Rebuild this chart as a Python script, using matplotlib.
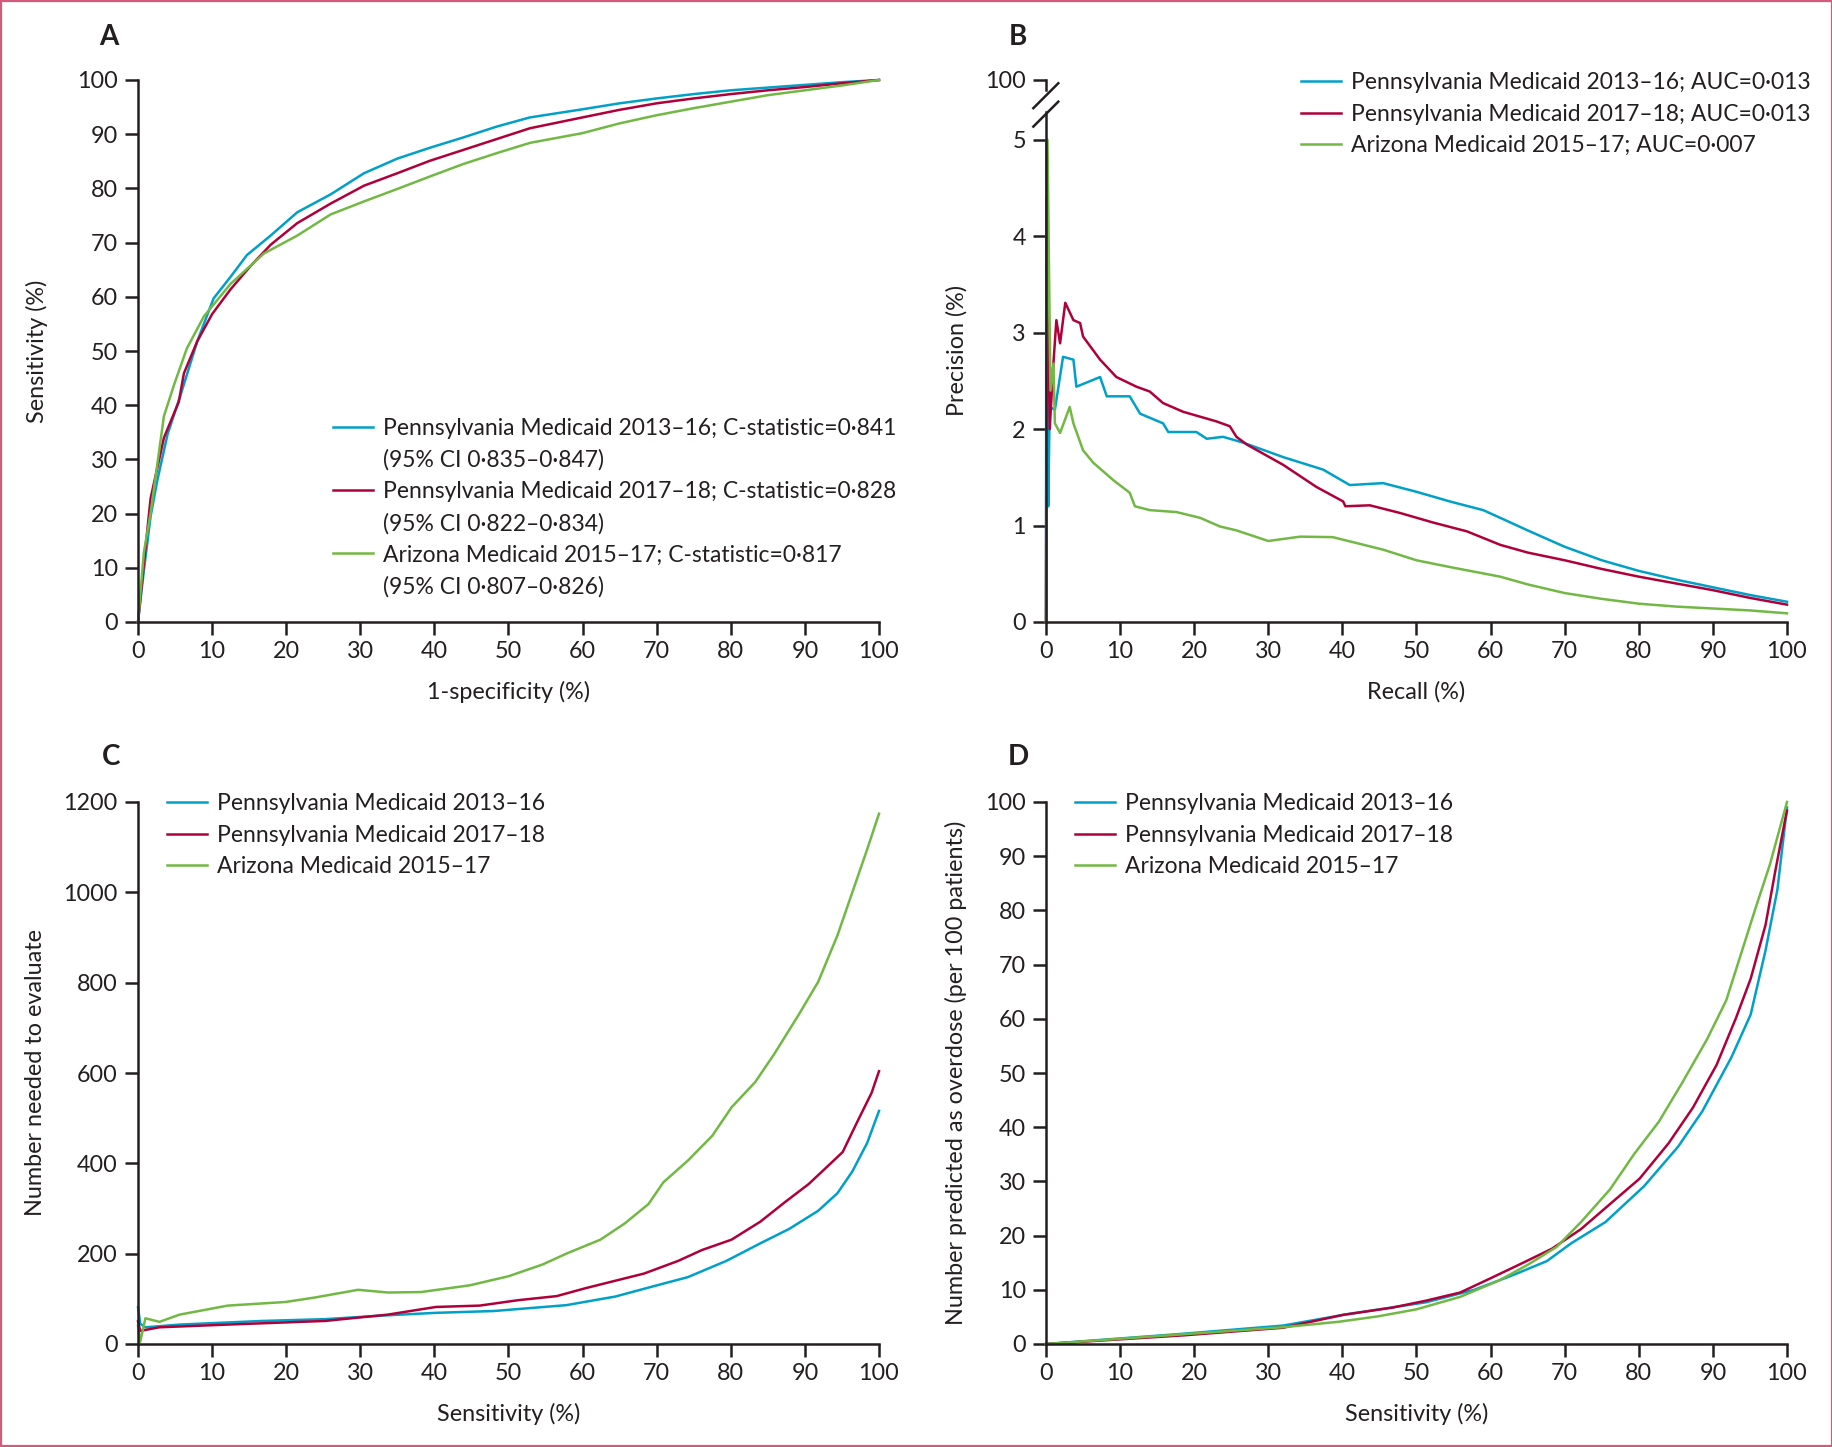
"""Four-panel model performance figure (ROC, precision-recall, NNE, predicted positives)."""

import matplotlib.pyplot as plt
from matplotlib.lines import Line2D
from matplotlib.patches import Rectangle

# --------------------------------------------------------------------------- #
# Data
# --------------------------------------------------------------------------- #
SERIES = ["Pennsylvania Medicaid 2013–16", "Pennsylvania Medicaid 2017–18",
          "Arizona Medicaid 2015–17"]
C_STATS = ["C-statistic=0·841", "C-statistic=0·828", "C-statistic=0·817"]
C_CIS = ["(95% CI 0·835–0·847)", "(95% CI 0·822–0·834)", "(95% CI 0·807–0·826)"]
AUCS = ["AUC=0·013", "AUC=0·013", "AUC=0·007"]

# Panel A: ROC (x = 1-specificity, y = sensitivity)
ROC_X_PA1316 = [0, 0.8, 1.7, 2.6, 4, 5.75, 8, 10.2, 12.5, 14.7, 17.9, 21.5, 26, 30.5, 35,
                39.4, 43.9, 48.4, 52.9, 60, 65, 70, 75, 80, 85, 90, 95, 100]
ROC_Y_PA1316 = [0, 9.6, 19.5, 26.1, 34.7, 41.9, 51.8, 59.7, 63.7, 67.7, 71.3, 75.6, 78.9, 82.8,
                85.5, 87.5, 89.4, 91.4, 93.1, 94.6, 95.7, 96.6, 97.4, 98.1, 98.6, 99.1, 99.6, 100]
ROC_X_PA1718 = [0, 0.8, 1.7, 3.5, 5.5, 6.2, 8, 10, 12.5, 15.2, 17.9, 21.5, 26, 30.5, 35,
                39.4, 43.9, 48.4, 52.9, 60, 65, 70, 75, 80, 85, 90, 95, 100]
ROC_Y_PA1718 = [0, 10.9, 22.8, 34, 40.6, 45.9, 51.8, 56.8, 61.4, 65.7, 69.6, 73.6, 77.2, 80.5,
                82.8, 85.1, 87.1, 89.1, 91.1, 93.1, 94.5, 95.7, 96.6, 97.4, 98.1, 98.7, 99.4, 100]
ROC_X_AZ = [0, 0.8, 1.7, 3.5, 4.9, 6.6, 8.9, 12.5, 17, 21.5, 26, 30.5, 35, 39.4, 43.9,
            48.4, 52.9, 60, 65, 70, 75, 80, 85, 90, 95, 100]
ROC_Y_AZ = [0, 12.9, 20.1, 38, 43.9, 50.5, 56.4, 62.4, 68, 71.3, 75.2, 77.6, 79.9, 82.2, 84.5,
            86.5, 88.4, 90.2, 92, 93.5, 94.8, 96, 97.2, 98.1, 99, 100]

# Panel B: precision-recall
PR_X_PA1316 = [0, 0.05, 0.3, 0.5, 1.2, 2.3, 3.7, 4.1, 7.3, 8.2, 11.3, 12.7, 15.8, 16.5, 20.3,
               21.7, 23.9, 26.6, 32, 37.4, 41, 45.5, 50, 54.5, 59, 61.3, 65, 70, 75, 80, 85,
               90, 95, 100]
PR_Y_PA1316 = [0, 5.0, 1.2, 2.23, 2.2, 2.75, 2.72, 2.44, 2.54, 2.34, 2.34, 2.16, 2.06, 1.97,
               1.97, 1.9, 1.92, 1.86, 1.71, 1.58, 1.42, 1.44, 1.35, 1.25, 1.16, 1.08, 0.95,
               0.78, 0.64, 0.53, 0.44, 0.36, 0.28, 0.21]
PR_X_PA1718 = [0, 0.1, 0.5, 1.0, 1.4, 1.9, 2.6, 3.7, 4.6, 5.0, 7.3, 9.5, 12.2, 14, 15.8, 18.5,
               23, 24.8, 25.7, 27.1, 32, 36.5, 40.1, 40.4, 43.7, 47.8, 52.3, 56.8, 61.3, 65,
               70, 75, 80, 85, 90, 95, 100]
PR_Y_PA1718 = [0, 4.4, 2.0, 2.68, 3.13, 2.89, 3.31, 3.13, 3.1, 2.96, 2.72, 2.54, 2.44, 2.39,
               2.27, 2.18, 2.08, 2.03, 1.92, 1.84, 1.63, 1.40, 1.25, 1.20, 1.21, 1.13, 1.03,
               0.94, 0.80, 0.72, 0.64, 0.55, 0.47, 0.40, 0.33, 0.25, 0.18]
PR_X_AZ = [0, 0.2, 0.6, 1.0, 1.2, 1.9, 3.2, 3.7, 5.0, 6.4, 9.1, 11.3, 12.0, 14, 17.6, 20.8,
           23.5, 25.7, 30, 34.3, 38.7, 45.5, 50, 54.5, 61.3, 65, 70, 75, 80, 85, 90, 95, 100]
PR_Y_AZ = [0, 5.0, 2.4, 2.68, 2.06, 1.96, 2.23, 2.06, 1.78, 1.65, 1.47, 1.34, 1.20, 1.16,
           1.14, 1.08, 0.99, 0.95, 0.84, 0.885, 0.88, 0.75, 0.64, 0.57, 0.47, 0.39, 0.30,
           0.24, 0.19, 0.16, 0.14, 0.12, 0.09]

# Panel C: number needed to evaluate vs sensitivity
NNE_X_PA1316 = [0, 0.3, 1, 5.6, 16.7, 25.2, 33, 40.2, 48, 57.8, 64.4, 69.6, 74.2, 79.4, 84,
                87.9, 91.8, 94.4, 96.4, 98.4, 100]
NNE_Y_PA1316 = [81, 45, 37, 43, 51, 55, 63, 69, 73, 86, 105, 128, 148, 184, 223, 255, 295,
                334, 382, 445, 516]
NNE_X_PA1718 = [0, 0.3, 2.9, 12.1, 25.2, 33.7, 40.2, 46.1, 51.3, 56.5, 60.5, 64.4, 68.3,
                72.9, 76.1, 80.1, 84, 87.3, 90.5, 93.1, 95.1, 97.1, 99, 100]
NNE_Y_PA1718 = [50, 29, 37, 43, 51, 65, 82, 85, 97, 106, 124, 140, 156, 184, 208, 231, 271,
                314, 354, 394, 425, 493, 556, 604]
NNE_X_AZ = [0, 0.3, 1, 2.9, 5.6, 12.1, 19.9, 23.9, 29.7, 33.7, 38.2, 44.8, 50, 54.6, 57.8,
            62.4, 65.7, 68.9, 70.9, 74.2, 77.5, 80.1, 83.3, 85.9, 89.2, 91.8, 94.4, 96.4,
            98.4, 100]
NNE_Y_AZ = [40, 5, 57, 49, 65, 85, 93, 103, 120, 114, 115, 130, 150, 176, 200, 231, 267, 310,
            358, 406, 461, 524, 580, 643, 730, 802, 905, 1000, 1095, 1174]

# Panel D: number predicted as overdose (per 100 patients) vs sensitivity
POS_X_PA1316 = [0, 18.6, 32, 40.2, 51.3, 57.8, 63, 67.6, 70.9, 75.5, 80.7, 85.3, 88.6, 92.5,
                95.1, 97.1, 98.7, 100]
POS_Y_PA1316 = [0, 1.9, 3.4, 5.4, 7.7, 10, 12.7, 15.3, 18.6, 22.5, 29.1, 36.4, 43, 52.9,
                60.8, 72.6, 83.8, 99]
POS_X_PA1718 = [0, 18.6, 32, 40.2, 46.7, 51.3, 55.9, 59.8, 64.4, 68.3, 72.2, 76.1, 80.1, 84,
                87.3, 90.5, 93.1, 95.1, 97.1, 98.4, 99.7, 100]
POS_Y_PA1718 = [0, 1.6, 3.0, 5.4, 6.7, 8.0, 9.5, 12, 15, 17.6, 21.2, 25.8, 30.5, 37, 43.6,
                51.5, 60.1, 67.4, 77.3, 87.1, 96.4, 98.4]
POS_X_AZ = [0, 18.6, 32, 39.5, 44.8, 50, 55.9, 61.1, 65, 68.9, 72.2, 76.1, 79.4, 82.7, 85.9,
            89.2, 91.8, 93.8, 95.8, 97.7, 100]
POS_Y_AZ = [0, 1.8, 3.1, 4.1, 5.1, 6.4, 8.7, 11.7, 14.6, 17.9, 22.5, 28.5, 35.1, 41, 48.3,
            56.2, 63.4, 72, 80.6, 88.5, 100]

# --------------------------------------------------------------------------- #
# Style
# --------------------------------------------------------------------------- #
COLORS = ["#00a0c8", "#b0003a", "#72b844"]
INK = "#231f20"
LW = 1.8
FS_TICK = 16.8
FS_LEG = 16.5

plt.rcParams.update({
  "font.family": ["Lato", "DejaVu Sans"],
  "font.size": FS_TICK,
  "text.color": INK,
  "axes.edgecolor": INK,
  "axes.labelcolor": INK,
  "axes.labelsize": FS_TICK,
  "axes.linewidth": 1.8,
  "xtick.color": INK,
  "ytick.color": INK,
  "xtick.major.size": 9.5,
  "ytick.major.size": 9.5,
  "xtick.major.width": 1.8,
  "ytick.major.width": 1.8,
  "xtick.major.pad": 4,
  "ytick.major.pad": 5,
  "xtick.labelsize": FS_TICK,
  "ytick.labelsize": FS_TICK,
})

W, H = 1833, 1447
LEFT_A, LEFT_B, AX_W = 138, 1046, 741
TOP_ROW, BOT_ROW, AX_H = 80, 802, 542


def _axes(fig, left_px, top_px):
  return fig.add_axes([left_px / W, 1 - (top_px + AX_H) / H, AX_W / W, AX_H / H])


def _style(ax, xlabel, ylabel, ylab_x):
  ax.spines[["top", "right"]].set_visible(False)
  ax.set_xlim(0, 100)
  ax.set_xticks(range(0, 101, 10))
  ax.set_xlabel(xlabel, va="center")
  ax.xaxis.set_label_coords(0.5, -0.129)
  ax.set_ylabel(ylabel, va="center")
  ax.yaxis.set_label_coords(ylab_x, 0.5)


def _legend(ax, handles, labels, x, y):
  ax.legend(handles, labels, loc="upper left", bbox_to_anchor=(x, y), frameon=False,
            fontsize=FS_LEG, handlelength=1.75, handletextpad=0.45, labelspacing=0.45,
            borderpad=0, borderaxespad=0)


def _lines(ax, xs, ys):
  out = []
  for x, y, c in zip(xs, ys, COLORS):
    out.append(ax.plot(x, y, color=c, lw=LW, clip_on=False, solid_joinstyle="round")[0])
  return out


def main():
  fig = plt.figure(figsize=(W / 100, H / 100), dpi=100)

  # A -- ROC
  ax = _axes(fig, LEFT_A, TOP_ROW)
  hs = _lines(ax, [ROC_X_PA1316, ROC_X_PA1718, ROC_X_AZ], [ROC_Y_PA1316, ROC_Y_PA1718, ROC_Y_AZ])
  ax.set_ylim(0, 100)
  ax.set_yticks(range(0, 101, 10))
  _style(ax, "1-specificity (%)", "Sensitivity (%)", -0.136)
  blank = Line2D([], [], color="none")
  handles, labels = [], []
  for h, s, c, ci in zip(hs, SERIES, C_STATS, C_CIS):
    handles += [h, blank]
    labels += [f"{s}; {c}", ci]
  _legend(ax, handles, labels, 0.263, 0.376)

  # B -- precision-recall with broken y axis
  ax = _axes(fig, LEFT_B, TOP_ROW)
  hs = _lines(ax, [PR_X_PA1316, PR_X_PA1718, PR_X_AZ], [PR_Y_PA1316, PR_Y_PA1718, PR_Y_AZ])
  top = 5.62
  ax.set_ylim(0, top)
  ax.set_yticks([0, 1, 2, 3, 4, 5, top], ["0", "1", "2", "3", "4", "5", "100"])
  _style(ax, "Recall (%)", "Precision (%)", -0.121)
  ax.spines["left"].set_bounds(0, 0.9415 * top)
  kw = dict(transform=ax.transAxes, clip_on=False, color=INK, lw=1.8)
  ax.plot([0, 0], [0.982, 1.0], **kw)
  ax.plot([-0.0171, 0.0166], [0.948, 0.994], **kw)
  ax.plot([-0.0171, 0.0166], [0.914, 0.960], **kw)
  _legend(ax, hs, [f"{s}; {a}" for s, a in zip(SERIES, AUCS)], 0.344, 1.014)

  # C -- number needed to evaluate
  ax = _axes(fig, LEFT_A, BOT_ROW)
  hs = _lines(ax, [NNE_X_PA1316, NNE_X_PA1718, NNE_X_AZ], [NNE_Y_PA1316, NNE_Y_PA1718, NNE_Y_AZ])
  ax.set_ylim(0, 1200)
  ax.set_yticks(range(0, 1201, 200))
  _style(ax, "Sensitivity (%)", "Number needed to evaluate", -0.139)
  _legend(ax, hs, SERIES, 0.039, 1.016)

  # D -- predicted positives
  ax = _axes(fig, LEFT_B, BOT_ROW)
  hs = _lines(ax, [POS_X_PA1316, POS_X_PA1718, POS_X_AZ], [POS_Y_PA1316, POS_Y_PA1718, POS_Y_AZ])
  ax.set_ylim(0, 100)
  ax.set_yticks(range(0, 101, 10))
  _style(ax, "Sensitivity (%)", "Number predicted as overdose (per 100 patients)", -0.121)
  _legend(ax, hs, SERIES, 0.039, 1.016)

  # panel letters and frame
  for letter, (x, y) in zip("ABCD", [(109, 37), (1018, 37), (111, 757), (1018, 757)]):
    fig.text(x / W, 1 - y / H, letter, fontsize=20, fontweight="bold", ha="center", va="center")
  fig.patches.append(Rectangle((0.0008, 0.001), 0.9984, 0.998, transform=fig.transFigure,
                               fill=False, edgecolor="#d45a7c", lw=1.6))

  fig.savefig("out.png", dpi=100)


if __name__ == "__main__":
  main()
